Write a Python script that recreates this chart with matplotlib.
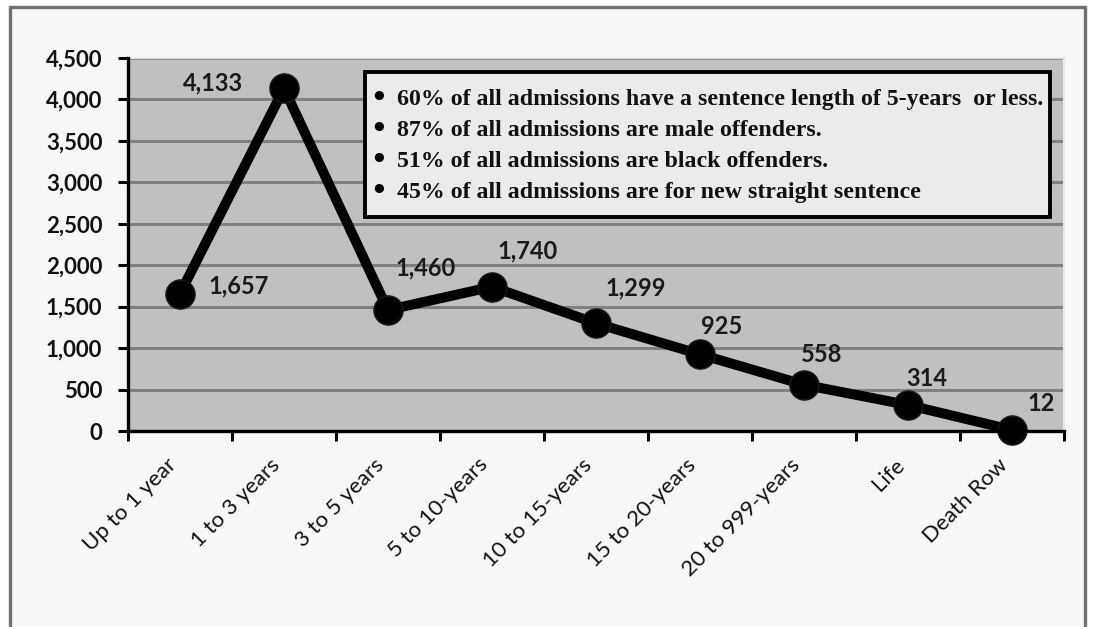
import matplotlib.pyplot as plt
from matplotlib.patches import Rectangle
from matplotlib.ticker import FixedLocator, NullFormatter

# sentence length categories and admissions
categories = ['Up to 1 year', '1 to 3 years', '3 to 5 years', '5 to 10-years',
              '10 to 15-years', '15 to 20-years', '20 to 999-years', 'Life', 'Death Row']
admissions = [1657, 4133, 1460, 1740, 1299, 925, 558, 314, 12]
yticks = [0, 500, 1000, 1500, 2000, 2500, 3000, 3500, 4000, 4500]

notes = ['60% of all admissions have a sentence length of 5-years  or less.',
         '87% of all admissions are male offenders.',
         '51% of all admissions are black offenders.',
         '45% of all admissions are for new straight sentence']

# where each value label sits relative to its point (pixels)
label_offsets = [(59, 8), (-71, 5), (38, 42), (36, 36), (40, 35),
                 (22, 28), (18, 30), (19, 26), (29, 27)]

W, H = 1093, 627
fig = plt.figure(figsize=(W / 100, H / 100), dpi=100)
fig.patch.set_facecolor('white')

# outer chart frame (bottom runs off the image)
fig.patches.append(Rectangle((10 / W, -0.05), 1075 / W, 1.05 - 7 / H,
                             transform=fig.transFigure, facecolor='#f7f7f7',
                             edgecolor='#707070', linewidth=2.4, zorder=-1))

ax = fig.add_axes([128 / W, 1 - 431 / H, 936 / W, 373 / H])
ax.set_zorder(1)
ax.set_facecolor('#c0c0c0')

x = list(range(len(categories)))
ax.plot(x, admissions, color='black', linewidth=7.2, marker='o', markersize=21,
        markerfacecolor='black', markeredgecolor='#1a1a1a', zorder=4,
        solid_joinstyle='round', clip_on=False)

for i, v in enumerate(admissions):
    dx, dy = label_offsets[i]
    ax.annotate('{:,}'.format(v), (i, v), xytext=(dx, dy), textcoords='offset pixels',
                ha='center', va='center', fontsize=17, fontweight='bold',
                family='Lato', color='#1a1a1a', zorder=6)

ax.set_xlim(-0.5, len(categories) - 0.5)
ax.set_ylim(0, 4500)
ax.set_yticks(yticks)
ax.set_yticklabels(['{:,}'.format(t) for t in yticks], fontsize=16,
                   fontweight='bold', family='Lato', color='#111111')

ax.set_xticks(x)
ax.set_xticklabels(categories, rotation=45, ha='right', va='top', fontsize=16,
                   family='Lato', color='#111111')
ax.xaxis.set_minor_locator(FixedLocator([i - 0.5 for i in range(len(categories) + 1)]))
ax.xaxis.set_minor_formatter(NullFormatter())
ax.tick_params(axis='x', which='major', length=0, pad=17)
ax.tick_params(axis='x', which='minor', length=7.5, width=2.2, direction='out', color='black')
ax.tick_params(axis='y', length=7.5, width=2.2, direction='out', color='black', pad=11)

# gridlines
ax.yaxis.grid(True, color='#808080', linewidth=2.2)
ax.set_axisbelow(True)

for s in ['left', 'bottom']:
    ax.spines[s].set_linewidth(2.4)
    ax.spines[s].set_color('black')
    ax.spines[s].set_zorder(5)
ax.spines['top'].set_color('#d8d8d8')
ax.spines['top'].set_linewidth(1)
ax.spines['right'].set_color('#e8e8e8')
ax.spines['right'].set_linewidth(1.5)

# notes box
bx0, bx1 = (365 - 128) / 936, (1050 - 128) / 936
by0, by1 = (431 - 217) / 373, (431 - 72) / 373
ax.add_patch(Rectangle((bx0, by0), bx1 - bx0, by1 - by0, transform=ax.transAxes,
                       facecolor='#ebebeb', edgecolor='black', linewidth=2.8, zorder=7))
baselines = [105, 136, 167, 198]
for line, yb in zip(notes, baselines):
    ty = (431 - yb) / 373
    ax.text((379 - 128) / 936, (431 - yb + 6) / 373, '\u2022', transform=ax.transAxes,
            fontsize=19, fontweight='bold', family='DejaVu Sans', ha='center',
            va='center', zorder=8)
    ax.text((397 - 128) / 936, ty, line, transform=ax.transAxes, fontsize=17.2,
            fontweight='bold', family='Liberation Serif', va='baseline',
            color='#111111', zorder=8)

fig.savefig('out.png', dpi=100)
